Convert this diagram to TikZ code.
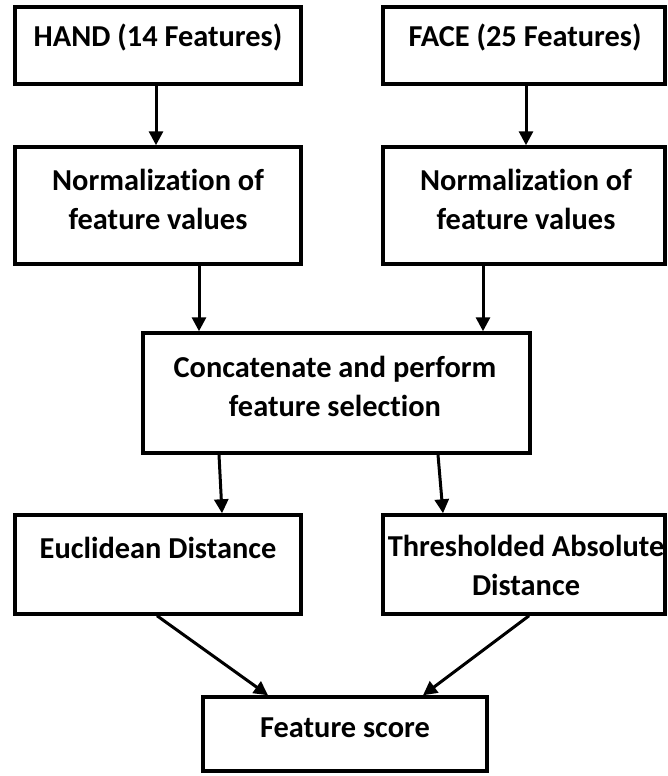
\documentclass[tikz,border=0pt]{standalone}
\usepackage{fontspec}
\setmainfont[Ligatures=NoCommon]{Carlito}
\usetikzlibrary{arrows.meta}
\begin{document}
\begin{tikzpicture}[x=1pt,y=-1pt,
  box/.style={draw=black,line width=3.5pt,fill=white,inner sep=0pt,
    minimum width=#1},
  box/.default=286pt,
  lbl/.style={font=\fontsize{30.4}{39}\selectfont\bfseries,align=center,inner sep=0pt},
  arr/.style={line width=3pt,-{Triangle[width=14pt,length=14pt]}}]
  \useasboundingbox (0,0) rectangle (667,776);

  % boxes
  \node[box, minimum height=77pt] (hand) at (158,45.5) {};
  \node[box=282pt, minimum height=77pt] (face) at (524,45.5) {};
  \node[box, minimum height=117pt] (normL) at (158,205.5) {};
  \node[box=282pt, minimum height=117pt] (normR) at (524,205.5) {};
  \node[box=387pt, minimum height=120pt] (concat) at (336.5,393) {};
  \node[box, minimum height=99pt] (eucl) at (158,564.5) {};
  \node[box=282pt, minimum height=99pt] (thr) at (524,564.5) {};
  \node[box=284pt, minimum height=74pt] (score) at (345,734) {};

  % labels
  \node[lbl] (thand) at (158,38) {HAND (14 Features)};
  \node[lbl] (tface) at (525,38) {FACE (25 Features)};
  \node[lbl] (tnormL) at (158,199) {Normalization of\\feature values};
  \node[lbl] (tnormR) at (526,199) {Normalization of\\feature values};
  \node[lbl] (tconcat) at (335,386) {Concatenate and perform\\feature selection};
  \node[lbl] (teucl) at (158,548) {Euclidean Distance};
  \node[lbl] (tthr) at (526,565) {Thresholded Absolute\\Distance};
  \node[lbl] (tscore) at (345,728) {Feature score};

  % connectors
  \draw[arr] ([xshift=-2pt]hand.south) -- ([xshift=-2pt]normL.north);
  \draw[arr] ([xshift=2pt]face.south) -- ([xshift=2pt]normR.north);
  \draw[arr] ([xshift=41pt]normL.south) -- ([xshift=-137.5pt]concat.north);
  \draw[arr] ([xshift=-41pt]normR.south) -- ([xshift=146.5pt]concat.north);
  \draw[arr] ([xshift=-117.5pt]concat.south) -- ([xshift=64pt]eucl.north);
  \draw[arr] ([xshift=101.5pt]concat.south) -- ([xshift=-81pt]thr.north);
  \draw[arr] ([xshift=-1pt]eucl.south) -- ([xshift=-77pt]score.north);
  \draw[arr] ([xshift=5pt]thr.south) -- ([xshift=78pt]score.north);
\end{tikzpicture}
\end{document}
